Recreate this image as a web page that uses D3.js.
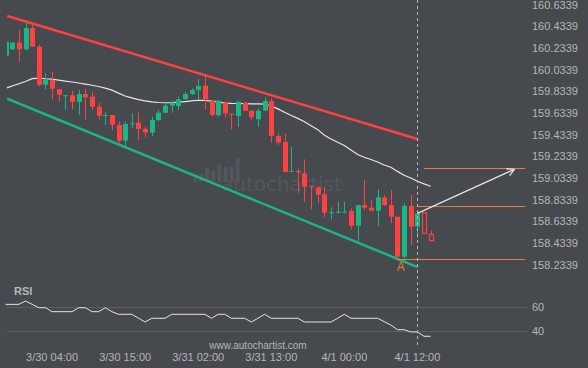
<!DOCTYPE html>
<html>
<head>
<meta charset="utf-8">
<script src="https://cdn.jsdelivr.net/npm/d3@7"></script>
<style>
  html, body { margin: 0; padding: 0; background: #46494e; }
  svg { display: block; font-family: "Liberation Sans", Arial, sans-serif; }
</style>
</head>
<body>
<svg id="chart" width="588" height="368"></svg>
<script>
// hourly candles, index 0..62
var opens = [160.164, 160.223, 160.284, 160.223, 160.419, 160.247, 159.896, 159.940, 159.854, 159.794,
  159.799, 159.737, 159.810, 159.786, 159.693, 159.608, 159.617, 159.525, 159.380, 159.536,
  159.546, 159.488, 159.454, 159.571, 159.638, 159.704, 159.700, 159.764, 159.810, 159.847,
  159.887, 159.749, 159.617, 159.730, 159.629, 159.608, 159.730, 159.656, 159.577, 159.656,
  159.746, 159.423, 159.368, 159.096, 159.101, 159.079, 158.965, 158.950, 158.886, 158.714,
  158.721, 158.721, 158.732, 158.596, 158.787, 158.762, 158.734, 158.858, 158.787, 158.679,
  158.310, 158.778, 158.587];
var closes = [160.293, 160.284, 160.223, 160.419, 160.247, 159.893, 159.940, 159.859, 159.804, 159.799,
  159.737, 159.810, 159.780, 159.693, 159.610, 159.617, 159.527, 159.380, 159.534, 159.540,
  159.488, 159.454, 159.571, 159.638, 159.703, 159.730, 159.762, 159.810, 159.847, 159.884,
  159.764, 159.617, 159.749, 159.632, 159.623, 159.739, 159.656, 159.596, 159.656, 159.746,
  159.426, 159.365, 159.091, 159.101, 159.088, 158.956, 158.959, 158.882, 158.716, 158.720,
  158.726, 158.726, 158.596, 158.787, 158.762, 158.734, 158.858, 158.787, 158.679, 158.310,
  158.778, 158.587, 158.710];
var highs = [160.293, 160.290, 160.401, 160.468, 160.447, 160.265, 160.001, 160.016, 159.857, 159.801,
  159.841, 159.847, 159.859, 159.832, 159.730, 159.647, 159.617, 159.555, 159.555, 159.632,
  159.638, 159.509, 159.601, 159.663, 159.728, 159.749, 159.786, 159.829, 159.863, 159.949,
  159.979, 159.755, 159.755, 159.739, 159.632, 159.749, 159.739, 159.663, 159.679, 159.780,
  159.771, 159.448, 159.448, 159.325, 159.119, 159.208, 158.965, 158.962, 158.956, 158.766,
  158.817, 158.817, 158.757, 158.787, 159.018, 158.833, 158.934, 158.879, 158.925, 158.679,
  158.803, 158.879, 158.722];
var lows = [160.164, 160.216, 160.108, 160.210, 160.244, 159.878, 159.854, 159.762, 159.739, 159.663,
  159.669, 159.617, 159.577, 159.663, 159.577, 159.525, 159.479, 159.356, 159.331, 159.494,
  159.386, 159.411, 159.423, 159.562, 159.635, 159.638, 159.663, 159.755, 159.801, 159.762,
  159.669, 159.601, 159.598, 159.596, 159.485, 159.509, 159.654, 159.571, 159.509, 159.654,
  159.361, 159.340, 159.091, 159.091, 158.898, 158.817, 158.747, 158.803, 158.674, 158.655,
  158.710, 158.710, 158.563, 158.455, 158.741, 158.732, 158.593, 158.778, 158.618, 158.310,
  158.271, 158.418, 158.483];

// projected candles (hollow), index 63..64
var fcOpens = [158.716, 158.517];
var fcCloses = [158.526, 158.458];
var fcHighs = [158.716, 158.550];
var fcLows = [158.526, 158.458];

// moving average, index 0..64
var ma = [159.864, 159.884, 159.905, 159.926, 159.952, 159.957, 159.951, 159.947, 159.939, 159.929,
  159.921, 159.912, 159.901, 159.891, 159.880, 159.865, 159.846, 159.819, 159.792, 159.775,
  159.759, 159.747, 159.738, 159.732, 159.730, 159.730, 159.735, 159.741, 159.747, 159.753,
  159.751, 159.744, 159.738, 159.727, 159.724, 159.723, 159.722, 159.720, 159.719, 159.718,
  159.700, 159.673, 159.643, 159.612, 159.586, 159.554, 159.518, 159.482, 159.430, 159.396,
  159.366, 159.335, 159.294, 159.253, 159.227, 159.207, 159.183, 159.156, 159.135, 159.097,
  159.061, 159.036, 159.006, 158.982, 158.960];

// RSI, index 0..64
var rsi = [62.2, 62.2, 62.2, 65, 62.2, 59.4, 59.4, 56.1, 56.1, 56.1,
  56.1, 59.4, 59.4, 56.1, 56.1, 59.4, 56.1, 53.9, 53.9, 53.9,
  50.7, 47.5, 50.6, 50.6, 50.6, 53.9, 53.9, 53.9, 53.9, 53.9,
  53.9, 50.6, 53.9, 53.9, 50.6, 50.6, 50.6, 47.5, 50.6, 53.9,
  50.6, 50.6, 50.6, 50.6, 50.6, 47.5, 47.5, 47.5, 47.5, 47.5,
  50.6, 53.9, 50.6, 50.6, 50.6, 50.6, 50.6, 47.8, 45, 41.1,
  41.1, 39.2, 39.2, 35.6, 35.6];

var priceTicks = [160.6339, 160.4339, 160.2339, 160.0339, 159.8339, 159.6339, 159.4339,
  159.2339, 159.0339, 158.8339, 158.6339, 158.4339, 158.2339];
var rsiTicks = [60, 40];
var timeTickIdx = [7, 18, 29, 40, 51, 62];
var timeTickLabels = ["3/30 04:00", "3/30 15:00", "3/31 02:00", "3/31 13:00", "4/1 00:00", "4/1 12:00"];

// channel lines [index, price]
var upperChannel = [[0.25, 160.530], [62, 159.396]];
var lowerChannel = [[0.25, 159.767], [62, 158.215]];
// key levels: start index, price
var levelStart = [63, 62, 59];
var levelPrice = [159.125, 158.775, 158.289];
var forecastArrow = [[62, 158.710], [76.6, 159.116]];
var nowIdx = 62;
var patternIdx = 59.5;

var svg = d3.select("#chart"),
  width = +svg.attr("width"),
  height = +svg.attr("height");

var x = d3.scaleLinear().domain([0, 78.2]).range([5.6, 525]),
  y = d3.scaleLinear().domain([158.2339, 160.6339]).range([265.0, 4.7]),
  yRsi = d3.scaleLinear().domain([40, 60]).range([331, 307]);

var green = "#1bb586", red = "#ff4141", orange = "#ef7a3c", label = "#b4b6ba";

svg.append("rect").attr("width", width).attr("height", height).attr("fill", "#46494e");

svg.append("clipPath").attr("id", "plot")
  .append("rect").attr("x", 7).attr("y", 0).attr("width", 520).attr("height", 290);

// watermark
var wm = svg.append("g").attr("fill", "#53565c");
[176.7, 173.3, 167, 170.3, 164.5, 167, 166, 158.3].forEach(function (top, i) {
  wm.append("rect").attr("x", 193 + i * 6.1).attr("y", top).attr("width", 4)
    .attr("height", 182 - top).attr("rx", 1.5);
});
wm.append("text").attr("x", 221).attr("y", 191)
  .attr("font-family", "'DejaVu Sans', sans-serif").attr("font-size", 20)
  .text("autochartist");

var g = svg.append("g").attr("clip-path", "url(#plot)");

// moving average
g.append("path")
  .datum(ma)
  .attr("fill", "none")
  .attr("stroke", "#e6e6e6")
  .attr("stroke-width", 1.2)
  .attr("d", d3.line().x(function (d, i) { return x(i); }).y(function (d) { return y(d); }));

// candles
var candles = opens.map(function (o, i) {
  return { i: i, o: o, c: closes[i], h: highs[i], l: lows[i] };
});

var cg = g.selectAll(".candle").data(candles).enter().append("g").attr("class", "candle");
cg.append("line")
  .attr("x1", function (d) { return Math.round(x(d.i)) + 0.5; })
  .attr("x2", function (d) { return Math.round(x(d.i)) + 0.5; })
  .attr("y1", function (d) { return y(d.h); })
  .attr("y2", function (d) { return y(d.l); })
  .attr("stroke", function (d) { return d.c >= d.o ? green : red; })
  .attr("stroke-width", 1);
cg.append("rect")
  .attr("x", function (d) { return Math.round(x(d.i)) - 2; })
  .attr("width", 5)
  .attr("y", function (d) { return y(Math.max(d.o, d.c)); })
  .attr("height", function (d) { return Math.max(1, Math.abs(y(d.o) - y(d.c))); })
  .attr("fill", function (d) { return d.c >= d.o ? green : red; });

// projected candles
var fc = fcOpens.map(function (o, i) {
  return { i: 63 + i, o: o, c: fcCloses[i], h: fcHighs[i], l: fcLows[i] };
});
var fg = g.selectAll(".fc").data(fc).enter().append("g").attr("class", "fc");
fg.append("line")
  .attr("x1", function (d) { return Math.round(x(d.i)) + 0.5; })
  .attr("x2", function (d) { return Math.round(x(d.i)) + 0.5; })
  .attr("y1", function (d) { return y(d.h); })
  .attr("y2", function (d) { return y(Math.max(d.o, d.c)); })
  .attr("stroke", red);
fg.append("rect")
  .attr("x", function (d) { return Math.round(x(d.i)) - 1.5; })
  .attr("width", 4)
  .attr("y", function (d) { return y(Math.max(d.o, d.c)); })
  .attr("height", function (d) { return Math.abs(y(d.o) - y(d.c)); })
  .attr("fill", "none")
  .attr("stroke", red)
  .attr("stroke-width", 1.2);

// channel
var chLine = d3.line().x(function (d) { return x(d[0]); }).y(function (d) { return y(d[1]); });
g.append("path").datum(upperChannel).attr("d", chLine)
  .attr("stroke", red).attr("stroke-width", 2.5).attr("fill", "none");
g.append("path").datum(lowerChannel).attr("d", chLine)
  .attr("stroke", green).attr("stroke-width", 2.5).attr("fill", "none");

// levels
levelPrice.forEach(function (p, k) {
  g.append("line")
    .attr("x1", x(levelStart[k])).attr("x2", x.range()[1])
    .attr("y1", Math.round(y(p)) + 0.5).attr("y2", Math.round(y(p)) + 0.5)
    .attr("stroke", orange).attr("stroke-width", 1.2);
});

// forecast arrow
var a0 = [x(forecastArrow[0][0]), y(forecastArrow[0][1])],
  a1 = [x(forecastArrow[1][0]), y(forecastArrow[1][1])];
var ang = Math.atan2(a1[1] - a0[1], a1[0] - a0[0]);
g.append("line").attr("x1", a0[0]).attr("y1", a0[1]).attr("x2", a1[0]).attr("y2", a1[1])
  .attr("stroke", "#e4e4e4").attr("stroke-width", 1.3);
[0.5, -0.5].forEach(function (da) {
  g.append("line").attr("x1", a1[0]).attr("y1", a1[1])
    .attr("x2", a1[0] - 8 * Math.cos(ang + da)).attr("y2", a1[1] - 8 * Math.sin(ang + da))
    .attr("stroke", "#e4e4e4").attr("stroke-width", 1.3);
});

// pattern point label
svg.append("text")
  .attr("x", x(patternIdx)).attr("y", y(lows[60]) + 10)
  .attr("text-anchor", "middle")
  .attr("font-size", 12).attr("fill", orange)
  .text("A");

// now line
svg.append("line")
  .attr("x1", Math.round(x(nowIdx)) + 0.5).attr("x2", Math.round(x(nowIdx)) + 0.5)
  .attr("y1", 0).attr("y2", 346)
  .attr("stroke", "#b8b8b8").attr("stroke-width", 1).attr("stroke-dasharray", "3,3");

// price axis
svg.append("g").selectAll("text").data(priceTicks).enter().append("text")
  .attr("x", 532).attr("y", function (d) { return y(d); })
  .attr("dy", "0.35em")
  .attr("font-size", 11).attr("fill", label)
  .text(function (d) { return d.toFixed(4); });

// RSI panel
svg.append("text").attr("x", 14).attr("y", 295)
  .attr("font-size", 11).attr("font-weight", "bold").attr("fill", label).text("RSI");

svg.append("g").selectAll("line").data(rsiTicks).enter().append("line")
  .attr("x1", 7).attr("x2", 527)
  .attr("y1", function (d) { return Math.round(yRsi(d)) + 0.5; })
  .attr("y2", function (d) { return Math.round(yRsi(d)) + 0.5; })
  .attr("stroke", "#5b5e63").attr("stroke-width", 1);

svg.append("g").selectAll("text").data(rsiTicks).enter().append("text")
  .attr("x", 532).attr("y", function (d) { return yRsi(d); })
  .attr("dy", "0.35em")
  .attr("font-size", 11).attr("fill", label)
  .text(function (d) { return d; });

svg.append("path")
  .datum(rsi)
  .attr("fill", "none")
  .attr("stroke", "#e6e6e6")
  .attr("stroke-width", 1)
  .attr("d", d3.line().x(function (d, i) { return x(i); }).y(function (d) { return yRsi(d); }));

// footer
svg.append("text").attr("x", 258).attr("y", 349)
  .attr("text-anchor", "middle").attr("font-size", 10).attr("fill", label)
  .text("www.autochartist.com");

// time axis
svg.append("g").selectAll("text").data(timeTickIdx).enter().append("text")
  .attr("x", function (d) { return x(d); }).attr("y", 361)
  .attr("text-anchor", "middle")
  .attr("font-size", 11).attr("fill", label)
  .text(function (d, i) { return timeTickLabels[i]; });
</script>
</body>
</html>
